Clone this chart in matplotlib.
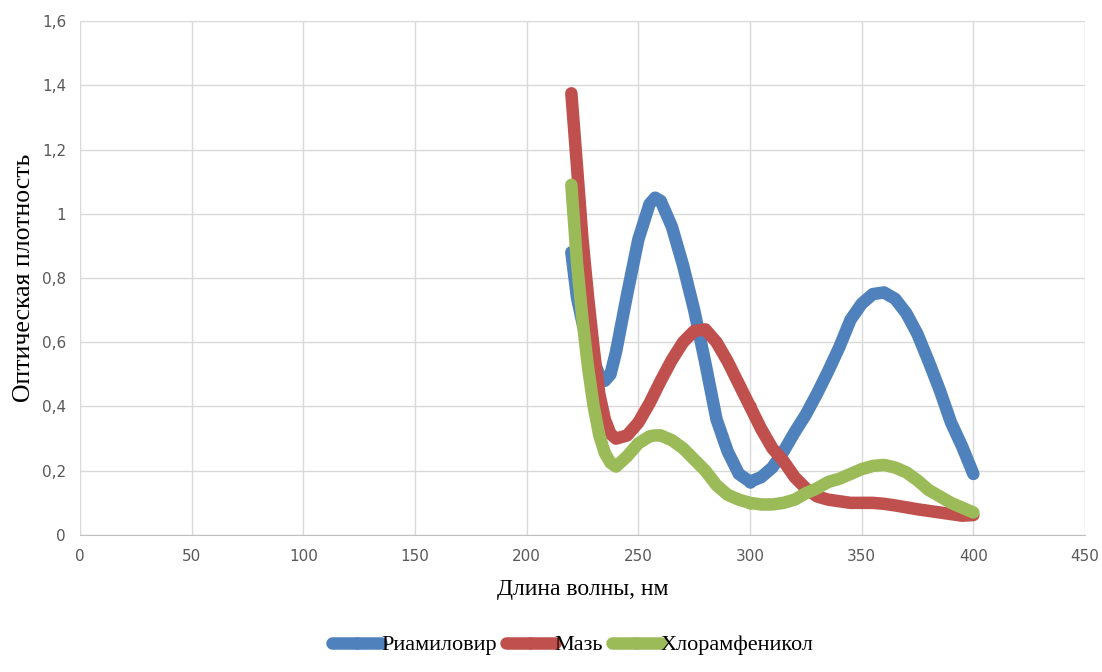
import matplotlib
matplotlib.use("Agg")
import matplotlib.pyplot as plt
from matplotlib.ticker import FuncFormatter, MultipleLocator

wavelength = [220, 222.5, 225, 227.5, 230, 232.5, 235, 237.5, 240, 245, 250, 255, 257.5, 260,
              265, 270, 275, 280, 285, 290, 295, 300, 305, 310, 315, 320, 325, 330,
              335, 340, 345, 350, 355, 360, 365, 370, 375, 380, 385, 390, 395, 400]

riamilovir = [0.88, 0.74, 0.66, 0.59, 0.54, 0.50, 0.48, 0.50, 0.57, 0.75, 0.92, 1.03, 1.05, 1.04,
              0.96, 0.84, 0.70, 0.535, 0.36, 0.26, 0.19, 0.166, 0.18, 0.21, 0.26, 0.32, 0.375, 0.44,
              0.51, 0.585, 0.67, 0.72, 0.75, 0.755, 0.735, 0.69, 0.625, 0.54, 0.45, 0.35, 0.275, 0.19]

maz = [1.375, 1.15, 0.92, 0.74, 0.58, 0.44, 0.36, 0.315, 0.30, 0.31, 0.35, 0.41, 0.445, 0.48,
       0.545, 0.60, 0.635, 0.64, 0.60, 0.54, 0.47, 0.40, 0.33, 0.27, 0.23, 0.18, 0.145, 0.12,
       0.11, 0.105, 0.10, 0.10, 0.10, 0.097, 0.092, 0.086, 0.08, 0.075, 0.07, 0.065, 0.06, 0.062]

chloramphenicol = [1.09, 0.85, 0.67, 0.52, 0.40, 0.31, 0.255, 0.225, 0.213, 0.245, 0.285, 0.307, 0.31, 0.31,
                   0.295, 0.27, 0.235, 0.20, 0.155, 0.125, 0.11, 0.10, 0.095, 0.095, 0.10, 0.11, 0.13, 0.145,
                   0.165, 0.175, 0.19, 0.205, 0.215, 0.218, 0.21, 0.195, 0.17, 0.14, 0.12, 0.10, 0.085, 0.07]

series_names = ["Риамиловир", "Мазь", "Хлорамфеникол"]
colors = ["#4F81BD", "#C0504D", "#9BBB59"]

fig = plt.figure(figsize=(11.02, 6.72), dpi=100)
ax = fig.add_axes([0.0726, 0.2039, 0.912, 0.7648])

for ys, name, c in zip([riamilovir, maz, chloramphenicol], series_names, colors):
    ax.plot(wavelength, ys, color=c, linewidth=9, marker="o", markersize=9,
            markeredgewidth=0, markevery=[len(wavelength) // 2],
            solid_capstyle="round", solid_joinstyle="round", label=name)

ax.set_xlim(0, 450)
ax.set_ylim(0, 1.6)
ax.xaxis.set_major_locator(MultipleLocator(50))
ax.yaxis.set_major_locator(MultipleLocator(0.2))

def yfmt(v, pos):
    s = f"{v:.1f}".rstrip("0").rstrip(".")
    return s.replace(".", ",")

ax.yaxis.set_major_formatter(FuncFormatter(yfmt))
ax.grid(True, color="#D9D9D9", linewidth=1)
ax.set_axisbelow(True)
for s in ["top", "right", "left"]:
    ax.spines[s].set_visible(False)
ax.spines["bottom"].set_color("#BFBFBF")
ax.tick_params(length=0, labelsize=11, labelcolor="#595959", pad=10)
for lab in ax.get_xticklabels() + ax.get_yticklabels():
    lab.set_family(["Liberation Sans Narrow", "DejaVu Sans Condensed", "DejaVu Sans"])

ax.set_xlabel("Длина волны, нм", fontsize=17, family=["Liberation Serif", "DejaVu Serif"], labelpad=11)
ax.set_ylabel("Оптическая плотность", fontsize=18.5, family=["Liberation Serif", "DejaVu Serif"], labelpad=5)

leg = fig.legend(loc="lower center", bbox_to_anchor=(0.52, -0.005), ncol=3, frameon=False,
                 prop={"family": ["Liberation Serif", "DejaVu Serif"], "size": 16},
                 handlelength=2.2, handletextpad=0.0, columnspacing=0.4)

fig.savefig("out.png", dpi=100)
